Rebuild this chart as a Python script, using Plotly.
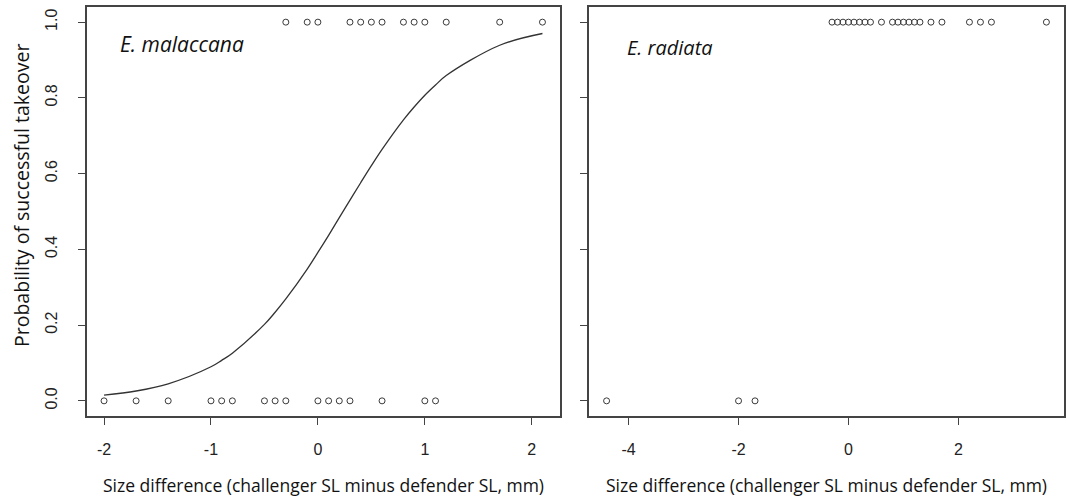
import plotly.graph_objects as go

# E. malaccana observations
mal_x_success = [-0.3, -0.1, 0.0, 0.3, 0.4, 0.5, 0.6, 0.8, 0.9, 1.0, 1.2, 1.7, 2.1]
mal_x_fail = [-2.0, -1.7, -1.4, -1.0, -0.9, -0.8, -0.5, -0.4, -0.3, 0.0, 0.1, 0.2, 0.3, 0.6, 1.0, 1.1]
# fitted curve
curve_x = [-2.0, -1.7, -1.4, -1.0, -0.9, -0.8, -0.5, -0.4, -0.3, -0.1, 0.0, 0.1, 0.2,
           0.3, 0.4, 0.5, 0.6, 0.8, 0.9, 1.0, 1.1, 1.2, 1.7, 2.1]
curve_p = [0.015, 0.026, 0.045, 0.090, 0.107, 0.126, 0.202, 0.234, 0.269, 0.348, 0.392, 0.437,
           0.484, 0.530, 0.576, 0.621, 0.664, 0.742, 0.776, 0.807, 0.834, 0.859, 0.939, 0.970]

# E. radiata observations
rad_x_success = [-0.3, -0.2, -0.1, 0.0, 0.1, 0.2, 0.3, 0.4, 0.6, 0.8, 0.9, 1.0, 1.1, 1.2, 1.3,
                 1.5, 1.7, 2.2, 2.4, 2.6, 3.6]
rad_x_fail = [-4.4, -2.0, -1.7]

left_xticks = [-2, -1, 0, 1, 2]
left_xlabels = ["-2", "-1", "0", "1", "2"]
right_xticks = [-4, -2, 0, 2]
right_xlabels = ["-4", "-2", "0", "2"]
yticks = [0.0, 0.2, 0.4, 0.6, 0.8, 1.0]
ylabels = ["0.0", "0.2", "0.4", "0.6", "0.8", "1.0"]

W, H = 1067, 502
mk = dict(symbol="circle-open", size=6, color="#3a3a3a", line=dict(width=1))

fig = go.Figure()
fig.add_trace(go.Scatter(x=curve_x, y=curve_p, mode="lines", line_shape="spline",
                         line=dict(color="#333333", width=1.3), xaxis="x", yaxis="y"))
fig.add_trace(go.Scatter(x=mal_x_success, y=[1] * len(mal_x_success), mode="markers",
                         marker=mk, xaxis="x", yaxis="y"))
fig.add_trace(go.Scatter(x=mal_x_fail, y=[0] * len(mal_x_fail), mode="markers",
                         marker=mk, xaxis="x", yaxis="y"))
fig.add_trace(go.Scatter(x=rad_x_success, y=[1] * len(rad_x_success), mode="markers",
                         marker=mk, xaxis="x2", yaxis="y2"))
fig.add_trace(go.Scatter(x=rad_x_fail, y=[0] * len(rad_x_fail), mode="markers",
                         marker=mk, xaxis="x2", yaxis="y2"))

tickfont = dict(family="Liberation Sans, Arial, sans-serif", size=16, color="#222222")
axis_common = dict(showline=True, linecolor="#444444", linewidth=1.5, mirror=True,
                   ticks="outside", ticklen=7, tickwidth=1, tickcolor="#444444",
                   showgrid=False, zeroline=False, tickfont=tickfont)

ydom = [(H - 416) / H, (H - 7) / H]
fig.update_layout(
    width=W, height=H,
    margin=dict(l=0, r=0, t=0, b=0),
    paper_bgcolor="white", plot_bgcolor="white",
    showlegend=False,
    xaxis=dict(domain=[86.5 / W, 560 / W], range=[-2.164, 2.264], tickvals=left_xticks,
               ticktext=left_xlabels, ticklabelstandoff=11, anchor="y", **axis_common),
    yaxis=dict(domain=ydom, range=[-0.04, 1.04], tickvals=yticks, ticktext=ylabels,
               tickangle=-90, ticklabelstandoff=14, anchor="x", **axis_common),
    xaxis2=dict(domain=[589 / W, 1064 / W], range=[-4.72, 3.92], tickvals=right_xticks,
                ticktext=right_xlabels, ticklabelstandoff=11, anchor="y2", **axis_common),
    yaxis2=dict(domain=ydom, range=[-0.04, 1.04], tickvals=yticks, showticklabels=False,
                anchor="x2", **axis_common),
)

title_font = dict(family="Open Sans, sans-serif", size=17.5, color="#111111")
fig.add_annotation(text="Size difference (challenger SL minus defender SL, mm)",
                   x=(86.5 + 560) / 2 / W, y=(H - 485) / H, xref="paper", yref="paper",
                   showarrow=False, font=title_font, xanchor="center", yanchor="middle")
fig.add_annotation(text="Size difference (challenger SL minus defender SL, mm)",
                   x=(589 + 1064) / 2 / W, y=(H - 485) / H, xref="paper", yref="paper",
                   showarrow=False, font=title_font, xanchor="center", yanchor="middle")
fig.add_annotation(text="Probability of successful takeover",
                   x=21 / W, y=(H - 196) / H, xref="paper", yref="paper", textangle=-90,
                   showarrow=False, font=dict(family="Open Sans, sans-serif", size=19.5,
                                              color="#111111"),
                   xanchor="center", yanchor="middle")

label_font = dict(family="Open Sans, sans-serif", size=21, color="#111111")
fig.add_annotation(text="<i>E. malaccana</i>", x=118 / W, y=(H - 44) / H,
                   xref="paper", yref="paper", showarrow=False, font=label_font,
                   xanchor="left", yanchor="middle")
fig.add_annotation(text="<i>E. radiata</i>", x=625 / W, y=(H - 47) / H,
                   xref="paper", yref="paper", showarrow=False,
                   font=dict(family="Open Sans, sans-serif", size=20, color="#111111"),
                   xanchor="left", yanchor="middle")

fig.write_html("out.html", config={"displayModeBar": False},
               post_script="document.body.style.margin='0';document.body.style.overflow='hidden';")
